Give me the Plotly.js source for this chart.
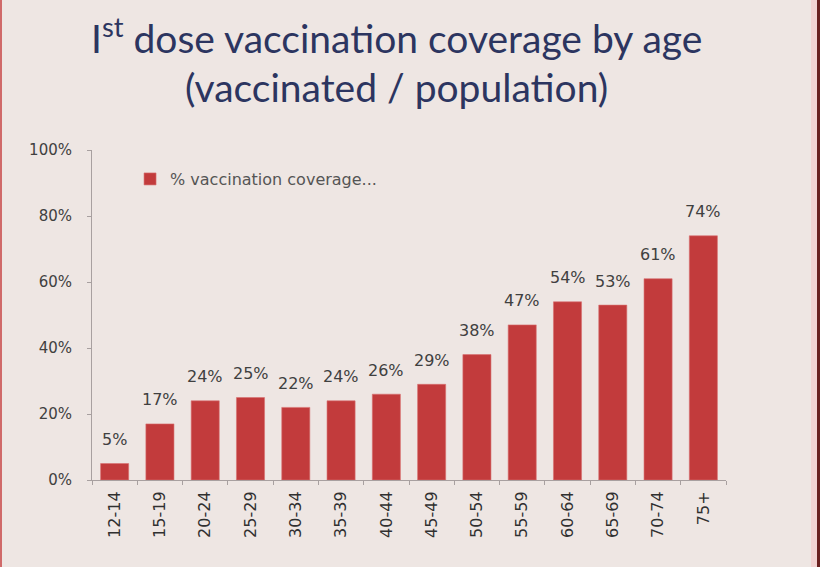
<!DOCTYPE html>
<html>
<head>
<meta charset="utf-8">
<script src="https://cdn.plot.ly/plotly-3.0.1.min.js"></script>
<style>
html,body{margin:0;padding:0;background:#eee6e3;}
#frame{position:relative;width:820px;height:567px;overflow:hidden;background:#eee6e3;}
#chart{position:absolute;left:0;top:0;width:820px;height:567px;}
#lb{position:absolute;left:0;top:0;width:2px;height:567px;background:#d06a6a;}
#rb1{position:absolute;left:811px;top:0;width:6px;height:567px;background:#f3d3d3;}
#rb2{position:absolute;left:817px;top:0;width:3px;height:567px;background:#6a2020;}
</style>
</head>
<body>
<div id="frame">
<div id="chart"></div>
<div id="lb"></div><div id="rb1"></div><div id="rb2"></div>
</div>
<script>
const ageGroups = ["12-14","15-19","20-24","25-29","30-34","35-39","40-44","45-49","50-54","55-59","60-64","65-69","70-74","75+"];
const coverage = [0.05,0.17,0.24,0.25,0.22,0.24,0.26,0.29,0.38,0.47,0.54,0.53,0.61,0.74];
const seriesName = "% vaccination coverage...";
const yTicks = [0,0.2,0.4,0.6,0.8,1.0];
const titleLine1 = "I<sup>st</sup> dose vaccination coverage by age";
const titleLine2 = "(vaccinated / population)";

const labelFont = "'DejaVu Sans', sans-serif";
const titleFont = "Lato, 'Open Sans', sans-serif";

const trace = {
  type: "bar",
  x: ageGroups,
  y: coverage,
  name: seriesName,
  marker: {color: "#c23b3c", line: {color: "#d97070", width: 0.6}},
  cliponaxis: false,
  showlegend: true
};

const valueLabels = ageGroups.map((g, i) => ({
  x: g, y: coverage[i], xref: "x", yref: "y",
  text: Math.round(coverage[i] * 100) + "%",
  showarrow: false, xanchor: "center", yanchor: "middle", yshift: 24,
  font: {family: labelFont, size: 16, color: "#404040"}
}));

const layout = {
  width: 820, height: 567,
  paper_bgcolor: "#eee6e3",
  plot_bgcolor: "#eee6e3",
  margin: {l: 92, r: 94, t: 150, b: 87},
  bargap: 0.38,
  font: {family: labelFont, color: "#404040"},
  annotations: [
    {text: titleLine1, xref: "paper", yref: "paper", x: 0.48, y: 1.348,
     xanchor: "center", yanchor: "middle", showarrow: false,
     font: {family: titleFont, size: 39, color: "#2c3560"}},
    {text: titleLine2, xref: "paper", yref: "paper", x: 0.48, y: 1.19,
     xanchor: "center", yanchor: "middle", showarrow: false,
     font: {family: titleFont, size: 39, color: "#2c3560"}}
  ].concat(valueLabels),
  showlegend: true,
  legend: {
    x: 0.06, y: 0.912, xanchor: "left", yanchor: "middle",
    bgcolor: "rgba(0,0,0,0)",
    font: {family: labelFont, size: 16, color: "#555555"},
    itemwidth: 30
  },
  xaxis: {
    type: "category",
    tickangle: -90,
    showline: true, linecolor: "#a8a0a0", linewidth: 1,
    ticks: "outside", tickson: "boundaries", ticklen: 4, tickcolor: "#a8a0a0",
    ticklabelstandoff: 4,
    tickfont: {family: labelFont, size: 16, color: "#303030"},
    showgrid: false, zeroline: false
  },
  yaxis: {
    range: [0, 1],
    tickvals: yTicks,
    tickformat: ".0%",
    showline: true, linecolor: "#a8a0a0", linewidth: 1,
    ticks: "outside", ticklen: 4, tickcolor: "#a8a0a0",
    ticklabelstandoff: 12,
    tickfont: {family: labelFont, size: 15, color: "#404040"},
    showgrid: false, zeroline: false
  }
};

Plotly.newPlot("chart", [trace], layout, {displayModeBar: false, staticPlot: true});
</script>
</body>
</html>
